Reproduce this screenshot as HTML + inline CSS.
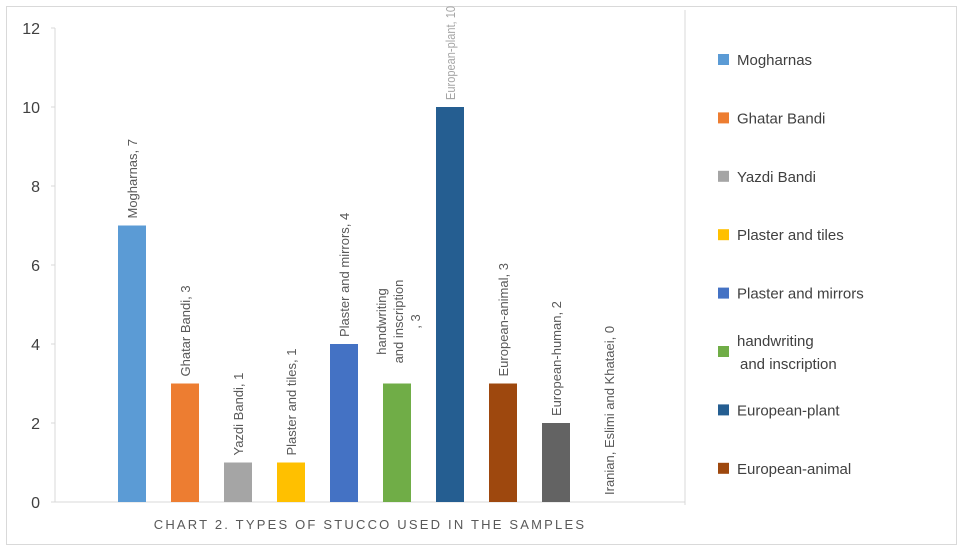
<!DOCTYPE html>
<html><head><meta charset="utf-8"><style>
body{margin:0;background:#fff;}
svg{display:block;font-family:"Liberation Sans",sans-serif;}
</style></head><body>
<svg id="c" width="962" height="550">
<rect x="6.5" y="6.5" width="950" height="538" fill="#fff" stroke="#d9d9d9"/>
<g id="g"></g>
</svg>
<script>
const categories=["Mogharnas","Ghatar Bandi","Yazdi Bandi","Plaster and tiles","Plaster and mirrors","handwriting and inscription","European-plant","European-animal","European-human","Iranian, Eslimi and Khataei"];
const values=[7,3,1,1,4,3,10,3,2,0];
const colors=["#5b9bd5","#ed7d31","#a5a5a5","#ffc000","#4472c4","#70ad47","#255e91","#9e480e","#636363","#997300"];
const yTicks=[0,2,4,6,8,10,12];
const legendNames=["Mogharnas","Ghatar Bandi","Yazdi Bandi","Plaster and tiles","Plaster and mirrors","handwriting|and inscription","European-plant","European-animal"];
const NS="http://www.w3.org/2000/svg";
const g=document.getElementById('g');
function mk(t,a,txt){const e=document.createElementNS(NS,t);for(const k in a)e.setAttribute(k,a[k]);if(txt!==undefined)e.textContent=txt;g.appendChild(e);return e;}
const x0=55,x1=685,yb=502,yt=28;
const y=v=>yb-(v/12)*(yb-yt);
const step=53,first=132,bw=28;
const xc=i=>first+i*step;
let e;
e=mk('line',{x1:x0,y1:yt,x2:x0,y2:yb,stroke:'#d9d9d9'});


e=mk('line',{x1:x0,y1:yb,x2:x1,y2:yb,stroke:'#d9d9d9'});


e=mk('line',{x1:x1,y1:10,x2:x1,y2:505,stroke:'#d9d9d9'});


yTicks.forEach(t=>{
 e=mk('line',{x1:x0-4,y1:y(t),x2:x0,y2:y(t),stroke:'#d9d9d9'});
 
 
 e=mk('text',{x:40,y:y(t)+6,'text-anchor':'end','font-size':16,fill:'#404040'},t);
 
 
});
values.forEach((v,i)=>{
 e=mk('rect',{x:xc(i)-bw/2,y:y(v),width:bw,height:yb-y(v),fill:colors[i]});
 
 
 if(i===5){
  const lines=["handwriting","and inscription",", 3"];
  const cy=y(v)-62;
  lines.forEach((l,j)=>{
   const lx=xc(i)-11+j*17;
   e=mk('text',{x:lx,y:cy,'text-anchor':'middle','font-size':13,fill:'#595959',transform:`rotate(-90 ${lx} ${cy})`},l);
   
   
  });
 } else {
  const lx=xc(i)+5,ly=y(v)-7;
  const attrs={x:lx,y:ly,'font-size':13,fill:i===6?'#a6a6a6':'#595959',transform:`rotate(-90 ${lx} ${ly})`};
  const txt=categories[i]+', '+v;
  if(ly<115){attrs.textLength=Math.max(40,ly-6);attrs.lengthAdjust='spacingAndGlyphs';}
  e=mk('text',attrs,txt);
  
  
 }
});
e=mk('text',{x:370,y:529,'text-anchor':'middle','font-size':13,fill:'#595959','letter-spacing':'2.2'},'CHART 2. TYPES OF STUCCO USED IN THE SAMPLES');


const ly0=60,lstep=58.4;
legendNames.forEach((n,i)=>{
 const cy=ly0+i*lstep;
 e=mk('rect',{x:718,y:cy-6,width:11,height:11,fill:colors[i]});
 
 
 const parts=n.split('|');
 if(parts.length>1){
  e=mk('text',{x:737,y:cy+5-11,'font-size':15,fill:'#404040'},parts[0]);
  
  
  e=mk('text',{x:740,y:cy+5+12,'font-size':15,fill:'#404040'},parts[1]);
  
  
 } else {
  e=mk('text',{x:737,y:cy+5,'font-size':15,fill:'#404040'},n);
  
  
 }
});
</script>
</body></html>
